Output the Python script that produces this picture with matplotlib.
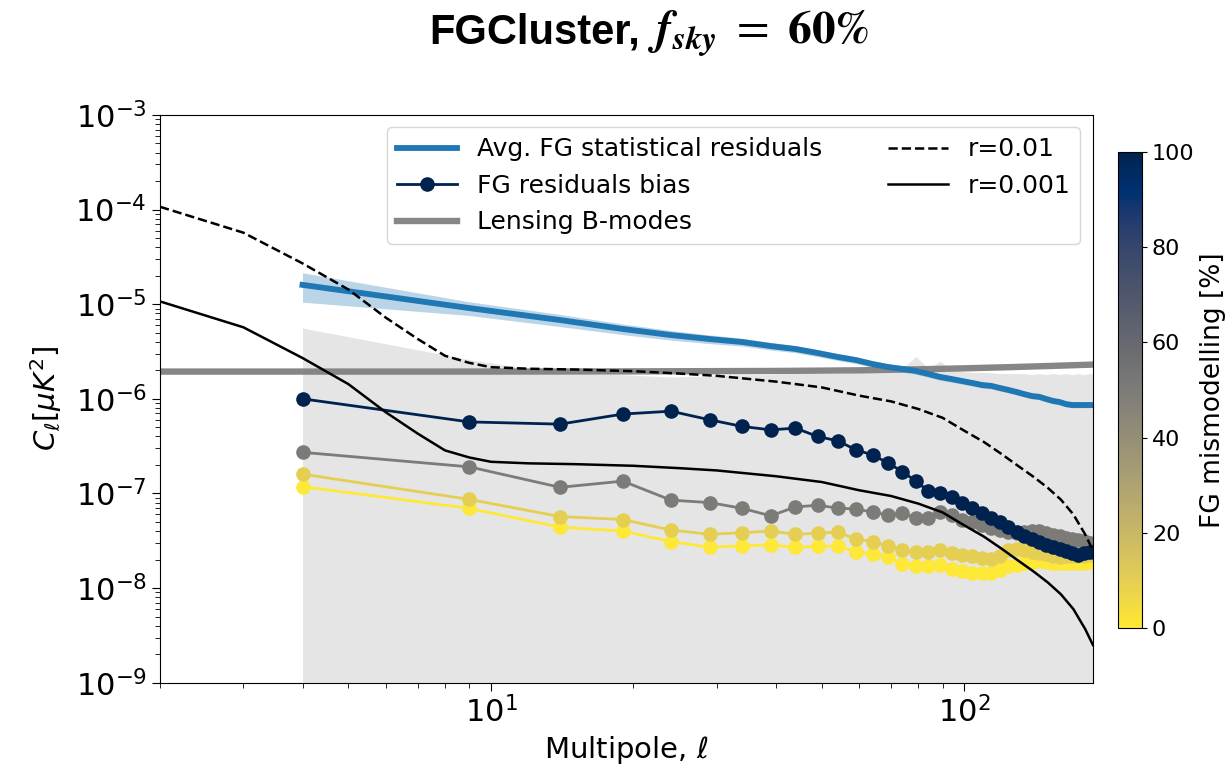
import numpy as np
import matplotlib
matplotlib.use("Agg")
import matplotlib.pyplot as plt
from matplotlib import cm, colors

# ---------------- data ----------------
ell_bins = np.arange(4, 190, 5)  # 4, 9, ..., 189

# FG residuals bias for different levels of FG mismodelling [%]
mismodelling_levels = [0, 10, 50, 100]

bias_0 = [1.18e-7, 6.95e-8, 4.4e-8, 4.0e-8, 3.1e-8, 2.7e-8, 2.8e-8, 2.85e-8, 2.7e-8, 2.75e-8,
          2.8e-8, 2.4e-8, 2.3e-8, 2.15e-8, 1.8e-8, 1.7e-8, 1.7e-8, 1.75e-8, 1.6e-8, 1.5e-8,
          1.45e-8, 1.43e-8, 1.43e-8, 1.55e-8, 1.7e-8, 1.75e-8, 1.85e-8, 1.9e-8, 1.95e-8, 1.9e-8,
          1.85e-8, 1.85e-8, 1.85e-8, 1.85e-8, 1.85e-8, 1.85e-8, 1.9e-8, 1.9e-8]
bias_10 = [1.6e-7, 8.65e-8, 5.7e-8, 5.3e-8, 4.1e-8, 3.7e-8, 3.85e-8, 4.0e-8, 3.7e-8, 3.8e-8,
           3.9e-8, 3.3e-8, 3.1e-8, 2.75e-8, 2.55e-8, 2.4e-8, 2.4e-8, 2.5e-8, 2.35e-8, 2.25e-8,
           2.2e-8, 2.1e-8, 2.05e-8, 2.2e-8, 2.5e-8, 2.6e-8, 2.5e-8, 2.4e-8, 2.35e-8, 2.3e-8,
           2.2e-8, 2.15e-8, 2.2e-8, 2.2e-8, 2.2e-8, 2.2e-8, 2.25e-8, 2.25e-8]
bias_50 = [2.72e-7, 1.91e-7, 1.16e-7, 1.35e-7, 8.5e-8, 8.0e-8, 6.95e-8, 5.8e-8, 7.2e-8, 7.5e-8,
           7.0e-8, 6.85e-8, 6.35e-8, 5.9e-8, 6.2e-8, 5.5e-8, 5.5e-8, 6.3e-8, 5.9e-8, 5.2e-8,
           5.0e-8, 4.6e-8, 4.3e-8, 4.1e-8, 3.9e-8, 3.8e-8, 3.9e-8, 4.0e-8, 4.0e-8, 3.8e-8,
           3.65e-8, 3.55e-8, 3.4e-8, 3.3e-8, 3.2e-8, 3.15e-8, 3.0e-8, 2.9e-8]
bias_100 = [1.0e-6, 5.7e-7, 5.4e-7, 6.9e-7, 7.4e-7, 6.0e-7, 5.1e-7, 4.7e-7, 4.9e-7, 4.0e-7,
            3.6e-7, 2.9e-7, 2.55e-7, 2.1e-7, 1.7e-7, 1.35e-7, 1.06e-7, 1.01e-7, 9.2e-8, 7.9e-8,
            7.0e-8, 6.2e-8, 5.5e-8, 5.0e-8, 4.4e-8, 3.9e-8, 3.55e-8, 3.3e-8, 3.06e-8, 2.85e-8,
            2.7e-8, 2.6e-8, 2.46e-8, 2.35e-8, 2.25e-8, 2.35e-8, 2.4e-8, 2.45e-8]

# Average FG statistical residuals and its spread
stat_mean = [1.6e-5, 9.1e-6, 6.8e-6, 5.47e-6, 4.72e-6, 4.28e-6, 3.98e-6, 3.61e-6, 3.36e-6, 3.05e-6,
             2.77e-6, 2.57e-6, 2.33e-6, 2.17e-6, 2.07e-6, 1.97e-6, 1.83e-6, 1.70e-6, 1.62e-6, 1.54e-6,
             1.47e-6, 1.40e-6, 1.37e-6, 1.30e-6, 1.24e-6, 1.18e-6, 1.12e-6, 1.07e-6, 1.05e-6, 9.95e-7,
             9.5e-7, 9.25e-7, 8.8e-7, 8.6e-7, 8.6e-7, 8.6e-7, 8.6e-7, 8.6e-7]
stat_sigma = [5.5e-6, 1.5e-6, 1.0e-6, 7.0e-7, 5.5e-7, 4.5e-7, 3.8e-7, 3.3e-7, 2.9e-7, 2.6e-7,
              2.3e-7, 2.1e-7, 1.9e-7, 1.7e-7, 1.6e-7, 1.5e-7, 1.4e-7, 1.3e-7, 1.2e-7, 1.1e-7,
              1.05e-7, 1.0e-7, 9.5e-8, 9.0e-8, 8.5e-8, 8.0e-8, 7.5e-8, 7.2e-8, 7.0e-8, 6.8e-8,
              6.5e-8, 6.3e-8, 6.0e-8, 5.8e-8, 5.6e-8, 5.5e-8, 5.5e-8, 5.5e-8]

# grey shaded area (upper envelope)
shade_top = [5.6e-6, 2.6e-6, 1.85e-6, 1.8e-6, 1.7e-6, 1.75e-6, 1.8e-6, 1.8e-6, 1.85e-6, 1.85e-6,
             1.85e-6, 1.9e-6, 1.9e-6, 1.95e-6, 2.1e-6, 2.8e-6, 2.1e-6, 2.5e-6, 2.0e-6, 1.95e-6,
             1.9e-6, 1.9e-6, 1.88e-6, 1.85e-6, 1.85e-6, 1.85e-6, 1.85e-6, 1.8e-6, 1.85e-6, 1.8e-6,
             1.85e-6, 1.8e-6, 1.85e-6, 1.8e-6, 1.85e-6, 1.8e-6, 1.85e-6, 1.85e-6]

# lensing B-modes
lens_ell = [2, 5, 10, 20, 40, 60, 80, 100, 120, 150, 187]
lens_cl = [1.94e-6, 1.94e-6, 1.94e-6, 1.95e-6, 1.97e-6, 2.0e-6, 2.05e-6, 2.1e-6, 2.15e-6, 2.22e-6, 2.3e-6]

# primordial tensor B-modes
th_ell = [2, 3, 4, 5, 6, 7, 8, 9, 10, 12, 15, 20, 25, 30, 40, 50, 60, 70, 80, 90,
          100, 110, 120, 130, 140, 150, 160, 170, 180, 187]
cl_r001 = [1.07e-4, 5.7e-5, 2.7e-5, 1.43e-5, 7.2e-6, 4.3e-6, 2.85e-6, 2.4e-6, 2.16e-6, 2.08e-6,
           2.04e-6, 1.96e-6, 1.85e-6, 1.75e-6, 1.52e-6, 1.32e-6, 1.08e-6, 9.4e-7, 7.8e-7, 6.3e-7,
           4.6e-7, 3.5e-7, 2.6e-7, 1.95e-7, 1.5e-7, 1.15e-7, 8.6e-8, 6.0e-8, 3.7e-8, 2.5e-8]
cl_r0001 = [1.07e-5, 5.7e-6, 2.7e-6, 1.43e-6, 7.2e-7, 4.3e-7, 2.85e-7, 2.4e-7, 2.16e-7, 2.08e-7,
            2.04e-7, 1.96e-7, 1.85e-7, 1.75e-7, 1.52e-7, 1.32e-7, 1.08e-7, 9.4e-8, 7.8e-8, 6.3e-8,
            4.6e-8, 3.5e-8, 2.6e-8, 1.95e-8, 1.5e-8, 1.15e-8, 8.6e-9, 6.0e-9, 3.7e-9, 2.5e-9]

cbar_ticks = [0, 20, 40, 60, 80, 100]

# ---------------- figure ----------------
fig = plt.figure(figsize=(12.29, 7.72), dpi=100)
ax = fig.add_axes([0.1302, 0.1157, 0.7591, 0.7354])

cmap = plt.get_cmap("cividis_r")
norm = colors.Normalize(vmin=0, vmax=100)

ax.fill_between(ell_bins, 1e-12, shade_top, color="gray", alpha=0.2, lw=0)
ax.plot(lens_ell, lens_cl, color="gray", lw=4.6, alpha=0.95, label="Lensing B-modes")

sm = np.array(stat_mean)
ss = np.array(stat_sigma)
ax.fill_between(ell_bins, sm - ss, sm + ss, color="#1f77b4", alpha=0.3, lw=0)
ax.plot(ell_bins, sm, color="#1f77b4", lw=4.2, label="Avg. FG statistical residuals")

for lev, vals in zip(mismodelling_levels, [bias_0, bias_10, bias_50, bias_100]):
    ax.plot(ell_bins, vals, "-o", color=cmap(norm(lev)), lw=2.0, ms=9.5,
            label="FG residuals bias" if lev == 100 else None)

ax.plot(th_ell, cl_r001, "k--", lw=1.8, label="r=0.01")
ax.plot(th_ell, cl_r0001, "k-", lw=1.8, label="r=0.001")

ax.set_xscale("log")
ax.set_yscale("log")
ax.set_xlim(2, 187)
ax.set_ylim(1e-9, 1e-3)
ax.tick_params(axis="both", which="major", labelsize=22, length=6)
ax.tick_params(axis="both", which="minor", length=3.5)
ax.xaxis.get_offset_text().set_visible(False)
ax.yaxis.get_offset_text().set_visible(False)
ax.set_xlabel(r"Multipole, $\ell$", fontsize=21)
ax.set_ylabel(r"$C_{\ell}[\mu K^2]$", fontsize=21, labelpad=8)

h, l = ax.get_legend_handles_labels()
order = [l.index("Avg. FG statistical residuals"), l.index("FG residuals bias"),
         l.index("Lensing B-modes"), l.index("r=0.01"), l.index("r=0.001")]
ax.legend([h[i] for i in order], [l[i] for i in order], ncol=2, loc="upper right",
          fontsize=18, handlelength=2.4, columnspacing=2.6, borderaxespad=0.5)

cax = fig.add_axes([0.9094, 0.1862, 0.0200, 0.6174])
cb = fig.colorbar(cm.ScalarMappable(norm=norm, cmap=cmap), cax=cax)
cb.set_ticks(cbar_ticks)
cb.ax.tick_params(labelsize=16)
cb.set_label("FG mismodelling [%]", fontsize=19)

# title
ty = 1 - 44 / 772
fig.text(640 / 1229, ty, "FGCluster,", ha="right", va="baseline", fontsize=30,
         fontweight="bold", family="Liberation Sans")
fig.text(648 / 1229, ty, r"$\mathbfit{f}_{\mathbfit{sky}}\ =\ \mathbf{60\%}$", ha="left",
         va="baseline", fontsize=34, math_fontfamily="stix")

fig.savefig("out.png", dpi=100)
